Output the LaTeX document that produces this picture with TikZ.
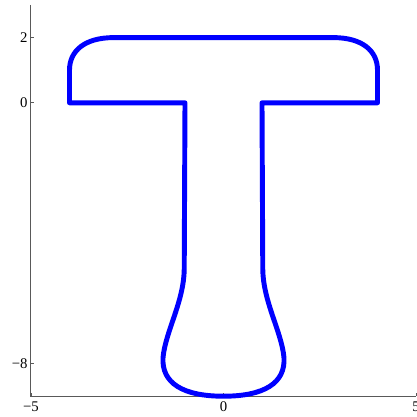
\documentclass[tikz,border=0pt]{standalone}
\usepackage{fontspec}
\setmainfont{Liberation Serif}
\usetikzlibrary{positioning}
\tikzset{
  tshape/.style={draw=blue, line width=3.5pt, line join=round},
  axisline/.style={draw=black!65, line width=0.7pt},
  axistick/.style={draw=black!65, line width=0.5pt},
  ticklabel/.style={font=\fontsize{10.5}{12}\selectfont, inner sep=0pt}
}
\begin{document}
\begin{tikzpicture}[x=0.9625cm, y=0.815cm]
  \useasboundingbox (-5.805,-9.613) rectangle (5.026,3.153);

  % axes
  \draw[axisline] (-5,3) -- (-5,-9) -- (5,-9);
  \foreach \yy in {2,0,-8}
    \draw[axistick] (-5,\yy) -- ++(0.08,0);
  \foreach \xx in {-5,0,5}
    \draw[axistick] (\xx,-9) -- ++(0,0.1);
  \node[ticklabel, anchor=east] (ytwo) at (-5.08,2) {2};
  \node[ticklabel, anchor=east] (yzero) at (-5.08,0) {0};
  \node[ticklabel, anchor=east] (yeight) at (-5.08,-8) {−8};
  \node[ticklabel, anchor=north] (xfive) at (-5,-9.15) {−5};
  \node[ticklabel, anchor=north] (xzero) at (0,-9.15) {0};
  \node[ticklabel, anchor=north] (xfivep) at (5,-9.15) {5};

  % T outline
  \draw[tshape] (-1,0) -- (-1.02,-5.1)
    .. controls (-1.03,-6.1) and (-1.5,-7.0) .. (-1.57,-7.8)
    .. controls (-1.62,-8.6) and (-1.05,-9) .. (0,-9)
    .. controls (1.05,-9) and (1.62,-8.6) .. (1.57,-7.8)
    .. controls (1.5,-7.0) and (1.03,-6.1) .. (1.02,-5.1)
    -- (1,0) -- (4,0) -- (4,1)
    .. controls (4,1.6) and (3.6,2) .. (2.85,2)
    -- (-2.85,2)
    .. controls (-3.6,2) and (-4,1.6) .. (-4,1)
    -- (-4,0) -- cycle;
\end{tikzpicture}
\end{document}
